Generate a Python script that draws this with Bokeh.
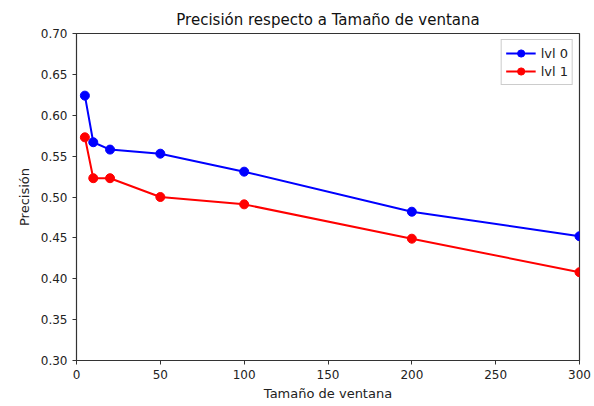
from bokeh.plotting import figure
from bokeh.embed import file_html
from bokeh.resources import INLINE
from bokeh.models import Range1d, FixedTicker, CustomJSTickFormatter

window = [5, 10, 20, 50, 100, 200, 300]
lvl0 = [0.624, 0.567, 0.558, 0.553, 0.531, 0.482, 0.452]
lvl1 = [0.573, 0.523, 0.523, 0.500, 0.491, 0.449, 0.408]
xticks = [0, 50, 100, 150, 200, 250, 300]
yticks = [0.30, 0.35, 0.40, 0.45, 0.50, 0.55, 0.60, 0.65, 0.70]

p = figure(width=594, height=406, output_backend="svg", toolbar_location=None,
           title="Precisión respecto a Tamaño de ventana",
           x_range=Range1d(0, 300), y_range=Range1d(0.30, 0.70),
           min_border_left=76, min_border_right=15, min_border_top=33, min_border_bottom=46)

font = "DejaVu Sans"
p.title.align = "center"
p.title.text_font = font
p.title.text_font_size = "15px"
p.title.text_font_style = "normal"
p.title.text_color = "#111111"

p.xgrid.visible = False
p.ygrid.visible = False
p.outline_line_color = "#333333"
p.outline_line_width = 1.2

for ax in (p.xaxis[0], p.yaxis[0]):
    ax.axis_label_text_font = font
    ax.axis_label_text_font_size = "13px"
    ax.axis_label_text_font_style = "normal"
    ax.axis_label_text_color = "#222222"
    ax.major_label_text_font = font
    ax.major_label_text_font_size = "12px"
    ax.major_label_text_color = "#222222"
    ax.minor_tick_line_color = None
    ax.major_tick_in = 0
    ax.major_tick_out = 4
    ax.axis_line_color = "#333333"
    ax.major_tick_line_color = "#333333"

p.xaxis.axis_label = "Tamaño de ventana"
p.yaxis.axis_label = "Precisión"
p.xaxis.ticker = FixedTicker(ticks=xticks)
p.yaxis.ticker = FixedTicker(ticks=yticks)
p.yaxis.formatter = CustomJSTickFormatter(code="return tick.toFixed(2);")
p.yaxis.major_label_orientation = "horizontal"
p.xaxis.axis_label_standoff = 4
p.yaxis.axis_label_standoff = 6

p.line(window, lvl0, color="blue", line_width=2, legend_label="lvl 0")
p.scatter(window, lvl0, color="blue", size=9, legend_label="lvl 0")
p.line(window, lvl1, color="red", line_width=2, legend_label="lvl 1")
p.scatter(window, lvl1, color="red", size=9, legend_label="lvl 1")

p.legend.location = "top_right"
p.legend.label_text_font = font
p.legend.label_text_font_size = "13px"
p.legend.label_text_color = "#222222"
p.legend.border_line_color = "#cccccc"
p.legend.border_line_alpha = 1
p.legend.padding = 4
p.legend.spacing = 0
p.legend.margin = 6
p.legend.glyph_width = 30
p.legend.glyph_height = 18
p.legend.label_height = 18
p.legend.background_fill_alpha = 0.8

open("out.html", "w").write(file_html(p, INLINE))
